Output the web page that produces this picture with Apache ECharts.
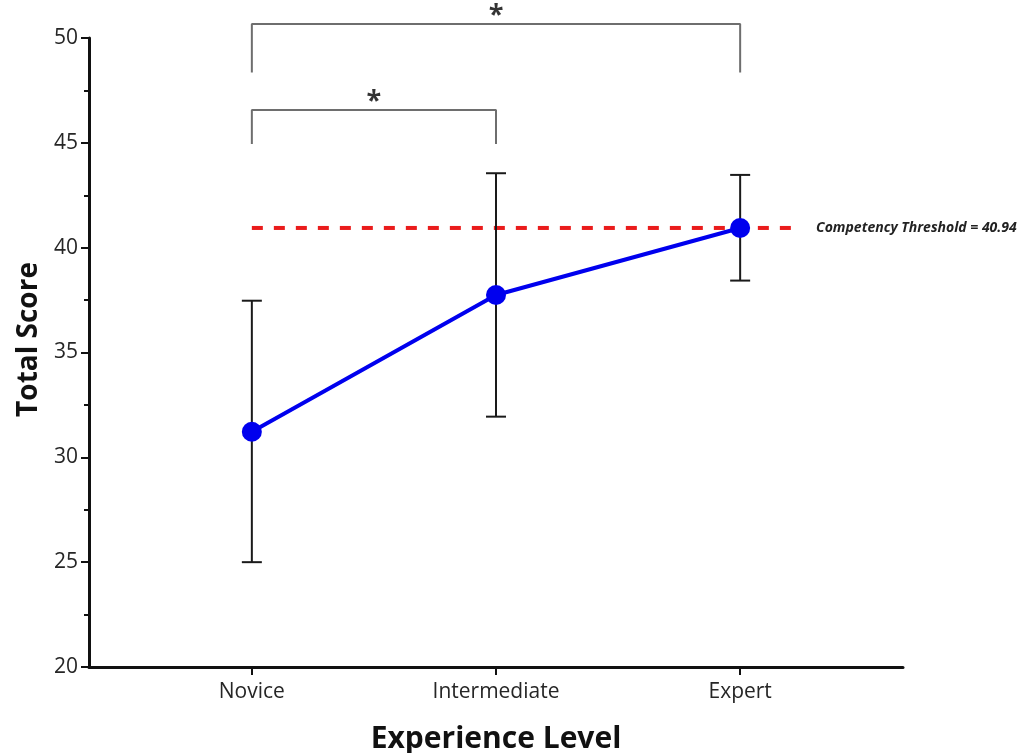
<!DOCTYPE html>
<html>
<head>
<meta charset="utf-8">
<script src="https://cdn.jsdelivr.net/npm/echarts@6/dist/echarts.min.js"></script>
<style>
html,body{margin:0;padding:0;background:#fff;}
#chart{width:1026px;height:753px;}
</style>
</head>
<body>
<div id="chart"></div>
<script>
// ---- data ----
const categories = ['Novice', 'Intermediate', 'Expert'];
const meanScores = [31.22, 37.74, 40.94];
const errLow = [25.0, 31.94, 38.43];
const errHigh = [37.47, 43.55, 43.47];
const threshold = 40.94;
const thresholdEndX = 2.225;
const yTicks = [20, 25, 30, 35, 40, 45, 50];
// significance brackets: [fromIndex, toIndex, barTop, legBottom]
const brackets = [
  [0, 1, 46.57, 44.95],
  [0, 2, 50.67, 48.35]
];
const sigLabel = '*';

const FONT = '"Open Sans", "DejaVu Sans", sans-serif';
const PAD = 0.667;

const chart = echarts.init(document.getElementById('chart'));

const lineData = categories.map((c, i) => [i, meanScores[i]]);
const errData = categories.map((c, i) => [i, errLow[i], errHigh[i]]);

const bracketSeries = brackets.map(b => ({
  type: 'line',
  data: [[b[0], b[3]], [b[0], b[2]], [b[1], b[2]], [b[1], b[3]]],
  symbol: 'none',
  clip: false,
  silent: true,
  z: 3,
  lineStyle: { color: '#6e6e6e', width: 2 }
}));

const starSeries = {
  type: 'scatter',
  data: brackets.map(b => [(b[0] + b[1]) / 2, b[2]]),
  symbolSize: 0,
  clip: false,
  silent: true,
  label: {
    show: true,
    position: 'top',
    distance: -5,
    formatter: sigLabel,
    fontFamily: FONT,
    fontWeight: 'bold',
    fontSize: 27,
    color: '#000'
  }
};

chart.setOption({
  animation: false,
  backgroundColor: '#ffffff',
  grid: { left: 89, right: 123, top: 38, bottom: 86, containLabel: false, outerBoundsMode: 'none' },
  xAxis: {
    type: 'value',
    min: -PAD,
    max: categories.length - 1 + PAD,
    name: 'Experience Level',
    nameLocation: 'middle',
    nameGap: 57,
    nameTextStyle: { fontFamily: FONT, fontWeight: 'bold', fontSize: 30, color: '#111' },
    splitLine: { show: false },
    axisLine: { show: true, onZero: false, lineStyle: { color: '#111', width: 3 } },
    axisTick: { show: true, length: 8, lineStyle: { color: '#111', width: 2 }, customValues: categories.map((c, i) => i) },
    axisLabel: {
      customValues: categories.map((c, i) => i),
      formatter: v => categories[Math.round(v)] || '',
      fontFamily: FONT, fontSize: 21, color: '#262626', margin: 15
    }
  },
  yAxis: {
    type: 'value',
    min: yTicks[0],
    max: yTicks[yTicks.length - 1],
    interval: yTicks[1] - yTicks[0],
    name: 'Total Score',
    nameLocation: 'middle',
    nameGap: 46,
    nameTextStyle: { fontFamily: FONT, fontWeight: 'bold', fontSize: 28, color: '#111', padding: [0, 0, 0, 26] },
    splitLine: { show: false },
    axisLine: { show: true, onZero: false, lineStyle: { color: '#111', width: 3 } },
    axisTick: { show: true, length: 8, lineStyle: { color: '#111', width: 2 } },
    minorTick: { show: true, splitNumber: 2, length: 5, lineStyle: { color: '#111', width: 2 } },
    axisLabel: { fontFamily: FONT, fontSize: 21, color: '#262626', margin: 11 }
  },
  series: [
    {
      type: 'line',
      name: 'Competency Threshold',
      data: [[0, threshold], [thresholdEndX, threshold]],
      symbol: 'none',
      z: 1,
      silent: true,
      lineStyle: { color: '#ea1c1c', width: 4, type: [11, 11] },
      endLabel: {
        show: true,
        distance: 21,
        formatter: 'Competency Threshold = ' + threshold.toFixed(2),
        fontFamily: FONT,
        fontStyle: 'italic',
        fontWeight: 'bold',
        fontSize: 14,
        color: '#222'
      }
    },
    {
      type: 'custom',
      name: 'SD',
      z: 2,
      silent: true,
      data: errData,
      renderItem: function (params, api) {
        const x = api.value(0);
        const lo = api.coord([x, api.value(1)]);
        const hi = api.coord([x, api.value(2)]);
        const hw = 10;
        const st = { stroke: '#1a1a1a', lineWidth: 2 };
        return {
          type: 'group',
          children: [
            { type: 'line', shape: { x1: lo[0], y1: lo[1], x2: hi[0], y2: hi[1] }, style: st },
            { type: 'line', shape: { x1: hi[0] - hw, y1: hi[1], x2: hi[0] + hw, y2: hi[1] }, style: st },
            { type: 'line', shape: { x1: lo[0] - hw, y1: lo[1], x2: lo[0] + hw, y2: lo[1] }, style: st }
          ]
        };
      }
    },
    {
      type: 'line',
      name: 'Mean',
      data: lineData,
      z: 5,
      symbol: 'circle',
      symbolSize: 20,
      itemStyle: { color: '#0000ee' },
      lineStyle: { color: '#0000ee', width: 4 }
    },
    ...bracketSeries,
    starSeries
  ]
});
</script>
</body>
</html>
